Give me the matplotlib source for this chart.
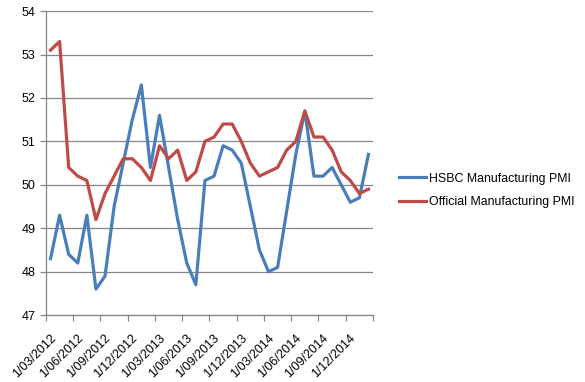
import matplotlib.pyplot as plt
import matplotlib.transforms as mtransforms
import numpy as np

months = ['1/03/2012', '1/04/2012', '1/05/2012', '1/06/2012', '1/07/2012', '1/08/2012',
          '1/09/2012', '1/10/2012', '1/11/2012', '1/12/2012', '1/01/2013', '1/02/2013',
          '1/03/2013', '1/04/2013', '1/05/2013', '1/06/2013', '1/07/2013', '1/08/2013',
          '1/09/2013', '1/10/2013', '1/11/2013', '1/12/2013', '1/01/2014', '1/02/2014',
          '1/03/2014', '1/04/2014', '1/05/2014', '1/06/2014', '1/07/2014', '1/08/2014',
          '1/09/2014', '1/10/2014', '1/11/2014', '1/12/2014', '1/01/2015', '1/02/2015']

hsbc = [48.3, 49.3, 48.4, 48.2, 49.3, 47.6, 47.9, 49.5, 50.5, 51.5, 52.3, 50.4,
        51.6, 50.4, 49.2, 48.2, 47.7, 50.1, 50.2, 50.9, 50.8, 50.5, 49.5, 48.5,
        48.0, 48.1, 49.4, 50.7, 51.7, 50.2, 50.2, 50.4, 50.0, 49.6, 49.7, 50.7]

official = [53.1, 53.3, 50.4, 50.2, 50.1, 49.2, 49.8, 50.2, 50.6, 50.6, 50.4, 50.1,
            50.9, 50.6, 50.8, 50.1, 50.3, 51.0, 51.1, 51.4, 51.4, 51.0, 50.5, 50.2,
            50.3, 50.4, 50.8, 51.0, 51.7, 51.1, 51.1, 50.8, 50.3, 50.1, 49.8, 49.9]

plt.rcParams['font.family'] = ['Liberation Sans', 'DejaVu Sans']

fig = plt.figure(figsize=(5.85, 3.82), dpi=100)
ax = fig.add_axes([0.0786, 0.175, 0.559, 0.796])

x = np.arange(len(months))
ax.plot(x, hsbc, color='#4A7EBB', lw=2.3, label='HSBC Manufacturing PMI', zorder=3)
ax.plot(x, official, color='#BE4B48', lw=2.3, label='Official Manufacturing PMI', zorder=3)

ax.set_xlim(-0.5, len(months) - 0.5)
ax.set_ylim(47, 54)
ax.set_yticks(range(47, 55))
ax.yaxis.grid(True, color='#868686', lw=0.9)
ax.set_axisbelow(True)

ticks = np.arange(-0.5, len(months) - 0.5, 3)
ax.set_xticks(list(ticks) + [len(months) - 0.5])
ax.set_xticklabels(months[::3] + [''], rotation=45, ha='right', rotation_mode='anchor')

for s in ['top', 'right']:
    ax.spines[s].set_visible(False)
for s in ['left', 'bottom']:
    ax.spines[s].set_color('#868686')
    ax.spines[s].set_linewidth(0.9)
ax.tick_params(axis='both', colors='#868686', labelcolor='black', labelsize=9,
               length=4, width=0.9)
ax.tick_params(axis='x', pad=8)

# nudge the rotated date labels a little to the right, like Excel does
shift = mtransforms.ScaledTranslation(4 / 100, 0, fig.dpi_scale_trans)
for lbl in ax.get_xticklabels():
    lbl.set_transform(lbl.get_transform() + shift)

ax.legend(loc='center left', bbox_to_anchor=(1.045, 0.41), frameon=False,
          fontsize=8.9, handlelength=2.2, handletextpad=0.2, labelspacing=0.95)

fig.savefig('out.png', dpi=100)
